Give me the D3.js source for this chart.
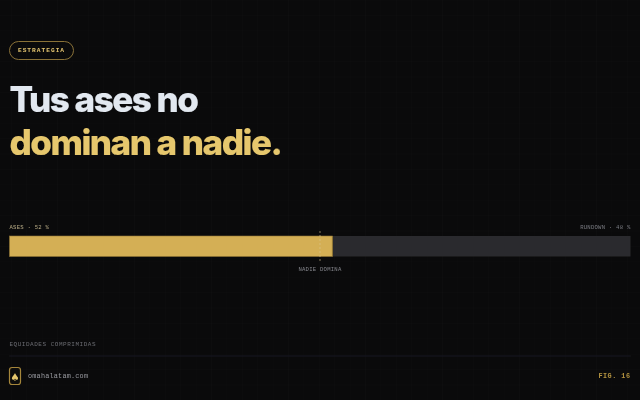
<!DOCTYPE html>
<html><head><meta charset="utf-8">
<script src="https://cdn.jsdelivr.net/npm/d3@7/dist/d3.min.js"></script>
<style>html,body{margin:0;padding:0;background:#0a0a0b;overflow:hidden}svg{display:block}</style>
</head><body><div id="chart"></div>
<script>
const categories=["ASES","RUNDOWN"];
const shares=[52,48];
const markerValue=50;
const sideLabels=["ASES · 52 %","RUNDOWN · 48 %"];
const markerLabel="NADIE DOMINA";
const badge="ESTRATEGIA";
const titleLines=["Tus ases no","dominan a nadie."];
const caption="EQUIDADES COMPRIMIDAS";
const site="omahalatam.com";
const fig="FIG. 16";
const colors=["#d4af55","#2a2b2f"];
const mono="'Liberation Mono',monospace";
const svg=d3.select("#chart").append("svg").attr("width",640).attr("height",400);
const defs=svg.append("defs");
defs.append("filter").attr("id","soft").append("feGaussianBlur").attr("stdDeviation",0.35);
svg.append("rect").attr("width",640).attr("height",400).attr("fill","#0a0a0b");
const grid=svg.append("g").attr("stroke","#ffffff").attr("stroke-opacity",0.016);
d3.range(11.3,640,15.4).forEach(x=>grid.append("line").attr("x1",x).attr("x2",x).attr("y1",0).attr("y2",400));
d3.range(0,400,15.4).forEach(y=>grid.append("line").attr("y1",y).attr("y2",y).attr("x1",0).attr("x2",640));
const root=svg.append("g").attr("filter","url(#soft)");
// badge
root.append("rect").attr("x",9.5).attr("y",41.5).attr("width",64).attr("height",18).attr("rx",9).attr("fill","none").attr("stroke","#8a7238").attr("stroke-width",1);
root.append("text").attr("x",41.5).attr("y",52).attr("text-anchor","middle").attr("font-family",mono).attr("font-size",6.2).attr("font-weight",700).attr("letter-spacing",1).attr("fill","#e3c46f").text(badge);
// title
root.selectAll("text.t").data(titleLines).join("text").attr("class","t").attr("x",9.5).attr("y",(d,i)=>[112,155][i])
 .attr("font-family","Inter").attr("font-weight",800).attr("font-size",35).attr("letter-spacing",-1.5)
 .attr("stroke",(d,i)=>["#e2e8f0","#e6c76d"][i]).attr("stroke-width",.15)
 .attr("fill",(d,i)=>["#e2e8f0","#e6c76d"][i]).text(d=>d);
// bar
const x=d3.scaleLinear().domain([0,100]).range([9.5,630.5]);
const stack=d3.cumsum(shares);
root.selectAll("rect.s").data(shares).join("rect").attr("class","s")
 .attr("x",(d,i)=>x(stack[i]-d)).attr("y",236).attr("height",20.5).attr("width",d=>x(d)-x(0))
 .attr("fill",(d,i)=>colors[i]);
root.append("rect").attr("x",9.5).attr("y",236).attr("width",x(stack[0])-9.5).attr("height",20.5).attr("fill","none").attr("stroke","#8f7636").attr("stroke-width",.6);
root.append("line").attr("x1",x(stack[0])).attr("x2",x(stack[0])).attr("y1",236).attr("y2",256.5).attr("stroke","#8f7636").attr("stroke-width",1);
root.append("line").attr("x1",x(markerValue)).attr("x2",x(markerValue)).attr("y1",231).attr("y2",262).attr("stroke","#d8c68f").attr("stroke-opacity",.6).attr("stroke-width",1).attr("stroke-dasharray","2 2");
const lab={ "font-family":mono,"font-size":5.6,"letter-spacing":.24};
function t(xp,y,s,fill,anchor,extra){const e=root.append("text").attr("x",xp).attr("y",y).attr("text-anchor",anchor||"start").attr("fill",fill).text(s);
 Object.entries({...lab,...(extra||{})}).forEach(([k,v])=>e.attr(k,v));return e;}
t(9.5,229,sideLabels[0],"#b8ab85");
t(630.5,229,sideLabels[1],"#7a7b82","end");
t(x(markerValue),271,markerLabel,"#85868c","middle");
t(9.5,345.5,caption,"#6a6b71","start",{"font-size":6,"letter-spacing":.52});
root.append("line").attr("x1",9.5).attr("x2",630.5).attr("y1",356).attr("y2",356).attr("stroke","#1c1c1e").attr("stroke-width",1);
// logo
root.append("rect").attr("x",9.5).attr("y",367.5).attr("width",11).attr("height",17).attr("rx",2.5).attr("fill","#0f0e0b").attr("stroke","#a5863a").attr("stroke-width",1.2);
root.append("text").attr("x",15).attr("y",380.5).attr("text-anchor","middle").attr("font-family","DejaVu Sans").attr("font-size",10.5).attr("fill","#e6c76d").text("♠");
t(28,378,site,"#9a9ba1","start",{"font-size":6.8,"letter-spacing":.22});
t(630.5,378,fig,"#b4933f","end",{"font-size":6.8,"font-weight":700,"letter-spacing":.5});
</script></body></html>
